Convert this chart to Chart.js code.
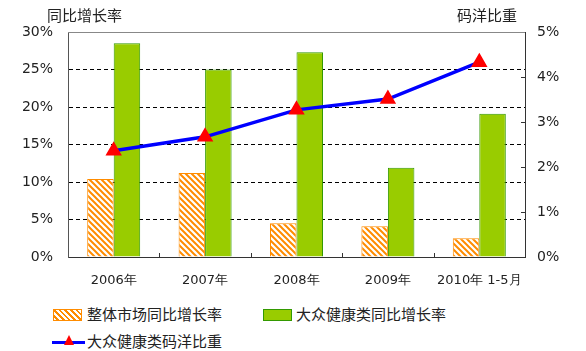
<!DOCTYPE html>
<html>
<head>
<meta charset="utf-8">
<script src="https://cdn.jsdelivr.net/npm/chart.js@4"></script>
<style>
  body { margin: 0; background: #fff; font-family: "DejaVu Sans", "Noto Sans CJK SC", sans-serif; }
  #wrap { position: relative; width: 586px; height: 351px; }
  #box { position: absolute; left: 0; top: 0; width: 586px; height: 292px; }
  .ttl { position: absolute; top: 4px; font-size: 15px; color: #222; font-family: "Noto Sans CJK SC", sans-serif; }
  .leg { position: absolute; font-size: 15px; color: #222; font-family: "Noto Sans CJK SC", sans-serif; line-height: 18px; }
  .sw { position: absolute; }
</style>
</head>
<body>
<div id="wrap">
  <div id="box"><canvas id="c"></canvas></div>
  <div class="ttl" style="left:47px">同比增长率</div>
  <div class="ttl" style="left:457px">码洋比重</div>

  <div class="sw" style="left:53px;top:309px;width:27px;height:10px;border:1px solid #ff8c00;background:repeating-linear-gradient(45deg,#fff 0 2px,#ff8c00 2px 4px)"></div>
  <div class="leg" style="left:87px;top:305px">整体市场同比增长率</div>
  <div class="sw" style="left:263px;top:309px;width:27px;height:10px;border:1px solid #339900;background:#99cc00"></div>
  <div class="leg" style="left:296px;top:305px">大众健康类同比增长率</div>
  <div class="sw" style="left:52px;top:341px;width:33px;height:3px;background:#0000ff"></div>
  <div class="sw" style="left:64px;top:335px;width:0;height:0;border-left:5px solid transparent;border-right:5px solid transparent;border-bottom:10px solid #ff0000"></div>
  <div class="leg" style="left:87px;top:332px">大众健康类码洋比重</div>
</div>
<script>
const categories = ['2006年', '2007年', '2008年', '2009年', '2010年 1-5月'];
const marketGrowth = [10.4, 11.2, 4.5, 4.1, 2.5];
const healthGrowth = [28.5, 25.0, 27.3, 11.9, 19.1];
const healthShare = [2.36, 2.67, 3.27, 3.51, 4.33];
const leftTicks = [0, 5, 10, 15, 20, 25, 30];
const rightTicks = [0, 1, 2, 3, 4, 5];

// orange hatch fill
function hatch() {
  const p = document.createElement('canvas');
  p.width = 6; p.height = 6;
  const g = p.getContext('2d');
  g.fillStyle = '#fff';
  g.fillRect(0, 0, 6, 6);
  g.strokeStyle = '#ff8c00';
  g.lineWidth = 2;
  g.beginPath();
  g.moveTo(-1, -1); g.lineTo(7, 7);
  g.moveTo(-1, 5); g.lineTo(1, 7);
  g.moveTo(5, -1); g.lineTo(7, 1);
  g.stroke();
  return g.createPattern(p, 'repeat');
}

// small inward tick marks on x axis and right axis
const innerTicks = {
  id: 'innerTicks',
  afterDraw(chart) {
    const { ctx, chartArea: a, scales } = chart;
    ctx.save();
    ctx.strokeStyle = '#333';
    ctx.lineWidth = 1;
    ctx.beginPath();
    for (let i = 1; i < categories.length; i++) {
      const x = Math.round((scales.x.getPixelForValue(i - 1) + scales.x.getPixelForValue(i)) / 2) + 0.5;
      ctx.moveTo(x, a.bottom);
      ctx.lineTo(x, a.bottom - 4);
    }
    rightTicks.forEach(v => {
      const y = Math.round(scales.y2.getPixelForValue(v)) + 0.5;
      ctx.moveTo(a.right, y);
      ctx.lineTo(a.right - 4, y);
    });
    ctx.stroke();
    ctx.strokeStyle = '#888';
    ctx.beginPath();
    ctx.moveTo(a.left, a.top + 0.5);
    ctx.lineTo(a.right, a.top + 0.5);
    ctx.stroke();
    ctx.restore();
  }
};

const tickFont = { family: 'DejaVu Sans', size: 14 };

new Chart(document.getElementById('c'), {
  data: {
    labels: categories,
    datasets: [
      {
        type: 'line',
        label: '大众健康类码洋比重',
        data: healthShare,
        yAxisID: 'y2',
        borderColor: '#0000ff',
        borderWidth: 3.5,
        pointStyle: 'triangle',
        pointRadius: 6,
        pointBackgroundColor: '#ff0000',
        pointBorderColor: '#ff0000',
        tension: 0,
        order: 0
      },
      {
        type: 'bar',
        label: '整体市场同比增长率',
        data: marketGrowth,
        yAxisID: 'y',
        backgroundColor: hatch(),
        borderColor: '#ff8c00',
        borderWidth: 1,
        order: 1
      },
      {
        type: 'bar',
        label: '大众健康类同比增长率',
        data: healthGrowth,
        yAxisID: 'y',
        backgroundColor: '#99cc00',
        borderColor: '#339900',
        borderWidth: 1,
        order: 1
      }
    ]
  },
  options: {
    responsive: true,
    maintainAspectRatio: false,
    animation: false,
    datasets: { bar: { barPercentage: 1, categoryPercentage: 0.58 } },
    layout: { padding: { top: 32, left: 0, right: 0, bottom: 0 } },
    plugins: { legend: { display: false }, tooltip: { enabled: false } },
    scales: {
      x: {
        grid: { display: false },
        border: { color: '#333', width: 1 },
        ticks: { color: '#222', font: { family: 'DejaVu Sans', size: 13 }, padding: 8 },
        afterFit(s) { s.height = 35; }
      },
      y: {
        position: 'left',
        min: 0, max: 30,
        afterBuildTicks(s) { s.ticks = leftTicks.map(v => ({ value: v })); },
        grid: {
          color: ctx => (ctx.tick.value === 0 || ctx.tick.value === 30) ? 'rgba(0,0,0,0)' : '#000',
          drawTicks: false
        },
        border: { color: '#555', width: 1, dash: [4, 3] },
        ticks: { color: '#222', font: tickFont, padding: 15, callback: v => v + '%' },
        afterFit(s) { s.width = 68; }
      },
      y2: {
        position: 'right',
        min: 0, max: 5,
        afterBuildTicks(s) { s.ticks = rightTicks.map(v => ({ value: v })); },
        grid: { drawOnChartArea: false, drawTicks: false },
        border: { color: '#333', width: 1 },
        ticks: { color: '#222', font: tickFont, padding: 12, callback: v => v + '%' },
        afterFit(s) { s.width = 61; }
      }
    }
  },
  plugins: [innerTicks]
});
</script>
</body>
</html>
